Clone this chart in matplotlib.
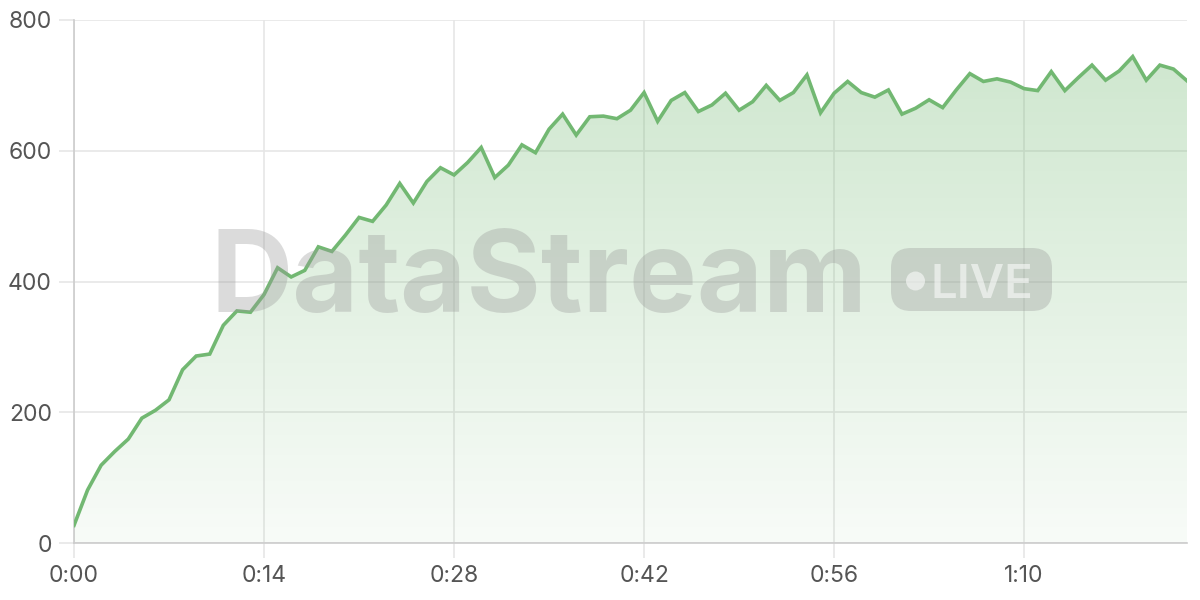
import numpy as np
import matplotlib.pyplot as plt
from matplotlib.colors import LinearSegmentedColormap
from matplotlib.patches import FancyBboxPatch, Circle
from matplotlib.transforms import Affine2D

# values per second
values = [27, 81, 119, 140, 159, 191, 203, 219, 265, 286, 289, 333, 355, 353, 380, 421,
          407, 417, 453, 446, 471, 498, 492, 517, 550, 520, 553, 574, 563, 582, 605, 559,
          578, 609, 597, 633, 656, 624, 652, 653, 649, 662, 689, 645, 677, 689, 660, 670,
          688, 662, 675, 700, 677, 689, 716, 658, 688, 706, 689, 682, 693, 656, 665, 678,
          666, 693, 718, 706, 710, 705, 695, 692, 721, 692, 712, 731, 708, 722, 744, 708,
          731, 725, 707]
seconds = list(range(len(values)))
x_ticks = [0, 14, 28, 42, 56, 70]
x_labels = ["0:00", "0:14", "0:28", "0:42", "0:56", "1:10"]
y_ticks = [0, 200, 400, 600, 800]

line_color = "#72b872"
grid_color = "#e6e6e6"
mark_color = (0.6, 0.6, 0.6, 0.35)

plt.rcParams['font.family'] = ['Inter', 'DejaVu Sans']

fig = plt.figure(figsize=(12, 6), dpi=100)
ax = fig.add_axes([74 / 1200, 1 - 543 / 600, (1187 - 74) / 1200, (543 - 20) / 600])

# gradient fill under the line
fill = ax.fill_between(seconds, values, 0, color="none", lw=0)
cmap = LinearSegmentedColormap.from_list(
    "g", [(0.447, 0.722, 0.447, 0.05), (0.447, 0.722, 0.447, 0.36)])
grad = np.linspace(0, 1, 256).reshape(-1, 1)
img = ax.imshow(grad, cmap=cmap, origin="lower", aspect="auto",
                extent=[0, seconds[-1], 0, 800], zorder=1)
img.set_clip_path(fill.get_paths()[0], transform=ax.transData)

ax.plot(seconds, values, color=line_color, lw=2.6, zorder=4, solid_joinstyle="miter")

ax.set_xlim(0, seconds[-1])
ax.set_ylim(0, 800)
ax.set_xticks(x_ticks)
ax.set_xticklabels(x_labels)
ax.set_yticks(y_ticks)
ax.grid(True, color=grid_color, lw=1.2, zorder=0)
ax.set_axisbelow(True)
ax.tick_params(length=11, width=1.2, color=grid_color, labelsize=16.5,
               labelcolor="#555555", pad=5)
for s in ["top", "right"]:
    ax.spines[s].set_visible(False)
for s in ["left", "bottom"]:
    ax.spines[s].set_color("#cccccc")
    ax.spines[s].set_linewidth(1.2)

# watermark, placed in pixels (origin bottom left)
px = Affine2D().scale(1 / 1200, 1 / 600) + fig.transFigure
fig.text(539, 288, "DataStream", transform=px, fontsize=82, fontweight="bold",
         color=mark_color, ha="center", va="baseline", zorder=3)
pill = FancyBboxPatch((891, 289), 161, 63, boxstyle="round,pad=0,rounding_size=20",
                      transform=px, fc=mark_color, ec="none", zorder=3)
fig.patches.append(pill)
fig.patches.append(Circle((915.5, 319), 9.5, transform=px, fc=(1, 1, 1, 0.55),
                          ec="none", zorder=4))
fig.text(930, 302, "LIVE", transform=px, fontsize=34, fontweight="semibold",
         color=(1, 1, 1, 0.55), ha="left", va="baseline", zorder=4)

fig.savefig("out.png", dpi=100)
